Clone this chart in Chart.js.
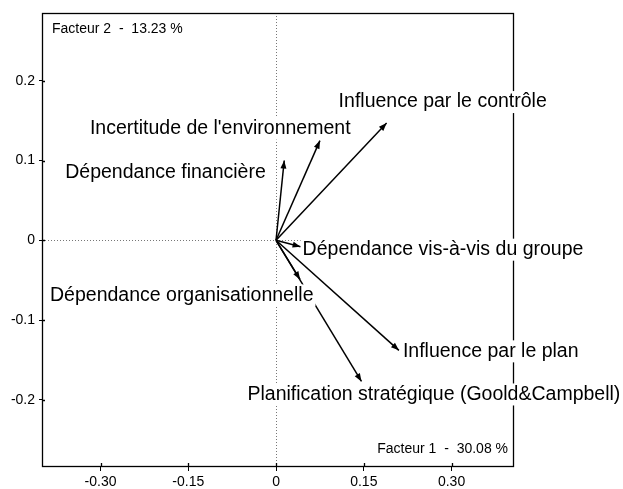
<!DOCTYPE html>
<html>
<head>
<meta charset="utf-8">
<script src="https://cdn.jsdelivr.net/npm/chart.js@4/dist/chart.umd.min.js"></script>
<style>
  html, body { margin: 0; padding: 0; background: #fff; }
  canvas { display: block; }
</style>
</head>
<body>
<canvas id="plan" width="623" height="489"></canvas>
<script>
// variables projected on the first factorial plane
const variables = [
  'Influence par le contrôle',
  "Incertitude de l'environnement",
  'Dépendance financière',
  'Dépendance vis-à-vis du groupe',
  'Dépendance organisationnelle',
  'Influence par le plan',
  'Planification stratégique (Goold&Campbell)'
];
const factor1 = [0.189, 0.075, 0.014, 0.042, 0.041, 0.210, 0.146];
const factor2 = [0.147, 0.125, 0.100, -0.008, -0.049, -0.138, -0.177];

const xTickValues = [-0.30, -0.15, 0, 0.15, 0.30];
const xTickLabels = ['-0.30', '-0.15', '0', '0.15', '0.30'];
const yTickValues = [0.2, 0.1, 0, -0.1, -0.2];
const yTickLabels = ['0.2', '0.1', '0', '-0.1', '-0.2'];

const axis1Title = 'Facteur 1  -  30.08 %';
const axis2Title = 'Facteur 2  -  13.23 %';

// where each name sits relative to its arrow tip (left edge, middle), px
const labelOffsets = [
  [-48, -21], [-230, -12], [-219, 12], [2, 3], [-250, 16], [4, 1], [-114, 13]
];

const FONT = '"Liberation Sans", Arial, sans-serif';

const datasets = variables.map((name, i) => ({
  label: name,
  data: [{ x: 0, y: 0 }, { x: factor1[i], y: factor2[i] }],
  showLine: true,
  borderColor: '#000',
  borderWidth: 1.5,
  pointRadius: 0,
  clip: false
}));

const framePlugin = {
  id: 'frame',
  beforeDatasetsDraw(chart) {
    const { ctx, chartArea: a, scales } = chart;
    const x0 = Math.round(scales.x.getPixelForValue(0)) + 0.5;
    const y0 = Math.round(scales.y.getPixelForValue(0)) + 0.5;
    ctx.save();
    // dotted zero lines
    ctx.strokeStyle = '#777';
    ctx.lineWidth = 1;
    ctx.setLineDash([1, 2]);
    ctx.beginPath();
    ctx.moveTo(x0, a.top); ctx.lineTo(x0, a.bottom);
    ctx.moveTo(a.left, y0); ctx.lineTo(a.right, y0);
    ctx.stroke();
    ctx.setLineDash([]);
    // box
    ctx.strokeStyle = '#000';
    ctx.lineWidth = 1.3;
    ctx.strokeRect(Math.round(a.left) + 0.5, Math.round(a.top) + 0.5,
      Math.round(a.right - a.left), Math.round(a.bottom - a.top));
    // inner part of tick marks
    ctx.beginPath();
    xTickValues.forEach(v => {
      const px = Math.round(scales.x.getPixelForValue(v)) + 0.5;
      ctx.moveTo(px, a.bottom); ctx.lineTo(px, a.bottom - 3);
    });
    yTickValues.forEach(v => {
      const py = Math.round(scales.y.getPixelForValue(v)) + 0.5;
      ctx.moveTo(a.left, py); ctx.lineTo(a.left + 3, py);
    });
    ctx.stroke();
    ctx.restore();
  },
  afterDatasetsDraw(chart) {
    const { ctx, chartArea: a } = chart;
    ctx.save();
    ctx.textBaseline = 'middle';
    ctx.textAlign = 'left';
    ctx.font = '19.5px ' + FONT;
    // names on white boxes
    variables.forEach((name, i) => {
      const tip = chart.getDatasetMeta(i).data[1];
      const lx = tip.x + labelOffsets[i][0];
      const ly = tip.y + labelOffsets[i][1];
      const w = ctx.measureText(name).width;
      ctx.fillStyle = '#fff';
      ctx.fillRect(lx - 2, ly - 11, w + 4, 22);
      ctx.fillStyle = '#000';
      ctx.fillText(name, lx, ly);
    });
    // arrow heads
    variables.forEach((name, i) => {
      const pts = chart.getDatasetMeta(i).data;
      const ang = Math.atan2(pts[1].y - pts[0].y, pts[1].x - pts[0].x);
      const len = 8, half = 3;
      ctx.save();
      ctx.translate(pts[1].x, pts[1].y);
      ctx.rotate(ang);
      ctx.beginPath();
      ctx.moveTo(0, 0);
      ctx.lineTo(-len, -half);
      ctx.lineTo(-len, half);
      ctx.closePath();
      ctx.fillStyle = '#000';
      ctx.fill();
      ctx.restore();
    });
    // factor titles
    ctx.font = '14px ' + FONT;
    ctx.fillStyle = '#000';
    ctx.fillText(axis2Title, a.left + 10, a.top + 16);
    ctx.textAlign = 'right';
    ctx.fillText(axis1Title, a.right - 5, a.bottom - 17);
    ctx.restore();
  }
};

new Chart(document.getElementById('plan'), {
  type: 'scatter',
  data: { datasets },
  options: {
    responsive: false,
    devicePixelRatio: 1,
    animation: false,
    layout: { padding: { top: 13, right: 110, left: 0, bottom: 0 } },
    plugins: { legend: { display: false }, tooltip: { enabled: false } },
    scales: {
      x: {
        type: 'linear',
        min: -0.40,
        max: 0.405,
        afterBuildTicks: s => { s.ticks = xTickValues.map(v => ({ value: v })); },
        afterFit: s => { s.height = 23; },
        grid: { drawOnChartArea: false, tickLength: 5, color: '#000', lineWidth: 1 },
        border: { display: false },
        ticks: {
          padding: 3,
          autoSkip: false,
          maxRotation: 0,
          color: '#000',
          font: { family: FONT, size: 14 },
          callback: (v, i) => xTickLabels[i]
        }
      },
      y: {
        type: 'linear',
        min: -0.283,
        max: 0.285,
        afterBuildTicks: s => { s.ticks = yTickValues.map(v => ({ value: v })); },
        afterFit: s => { s.width = 42; },
        grid: { drawOnChartArea: false, tickLength: 3, color: '#000', lineWidth: 1 },
        border: { display: false },
        ticks: {
          padding: 4,
          autoSkip: false,
          color: '#000',
          font: { family: FONT, size: 14 },
          callback: (v, i) => yTickLabels[i]
        }
      }
    }
  },
  plugins: [framePlugin]
});
</script>
</body>
</html>
